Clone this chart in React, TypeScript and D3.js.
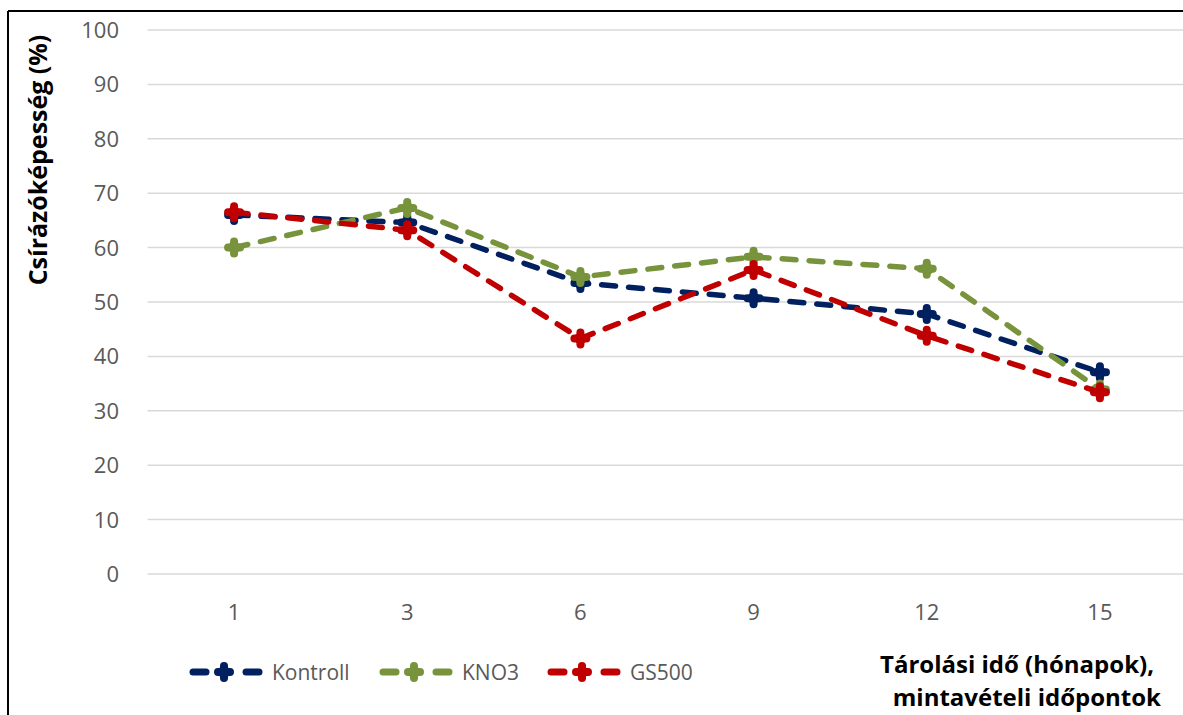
import React from "react";
import * as d3 from "d3";

const categories = ["1", "3", "6", "9", "12", "15"];
const kontroll = [66, 64.6, 53.5, 50.7, 47.8, 37.1];
const kno3 = [60, 67.3, 54.6, 58.3, 56.1, 33.9];
const gs500 = [66.5, 63.2, 43.3, 55.9, 43.8, 33.4];
const yTicks = [0, 10, 20, 30, 40, 50, 60, 70, 80, 90, 100];
const seriesNames = ["Kontroll", "KNO3", "GS500"];
const seriesColors = ["#002060", "#77933C", "#C00000"];

const W = 1183;
const H = 715;
const plotLeft = 147.5;
const plotRight = 1186.5;
const plotTop = 30;
const plotBottom = 574;

const FONT = "'Open Sans', 'Noto Sans', sans-serif";

function Marker({ x, y, color }: { x: number; y: number; color: string }) {
  return (
    <g>
      <line x1={x - 6} x2={x + 6} y1={y} y2={y} stroke={color} strokeWidth={8} strokeLinecap="round" />
      <line x1={x} x2={x} y1={y - 6} y2={y + 6} stroke={color} strokeWidth={8} strokeLinecap="round" />
      <circle cx={x} cy={y} r={6} fill={color} />
    </g>
  );
}

export default function App() {
  const x = d3.scaleBand<string>().domain(categories).range([plotLeft, plotRight]).padding(0);
  const y = d3.scaleLinear().domain([0, 100]).range([plotBottom, plotTop]);
  const cx = (c: string) => (x(c) as number) + x.bandwidth() / 2;
  const data = [kontroll, kno3, gs500];
  const line = d3
    .line<number>()
    .x((_, i) => cx(categories[i]))
    .y((d) => y(d));

  const legendStarts = [190, 380, 548];
  const legendY = 672;

  return (
    <svg
      width={W}
      height={H}
      style={{ position: "absolute", left: 0, top: 0, background: "#fff" }}
      fontFamily={FONT}
    >
      <rect x={0} y={0} width={W} height={H} fill="#fff" />
      {/* frame */}
      <line x1={8} x2={W} y1={11} y2={11} stroke="#000" strokeWidth={2} />
      <line x1={8} x2={8} y1={11} y2={H} stroke="#000" strokeWidth={2} />

      {/* gridlines */}
      {yTicks.map((t) => (
        <g key={t}>
          <line x1={plotLeft} x2={plotRight} y1={y(t)} y2={y(t)} stroke="#D9D9D9" strokeWidth={1.5} />
          <text x={119} y={y(t)} dy="0.36em" textAnchor="end" fontSize={22} fill="#595959">
            {t}
          </text>
        </g>
      ))}

      {/* x tick labels */}
      {categories.map((c) => (
        <text key={c} x={cx(c)} y={612} dy="0.36em" textAnchor="middle" fontSize={22} fill="#595959">
          {c}
        </text>
      ))}

      {/* y axis title */}
      <text
        transform={`translate(38, 160) rotate(-90)`}
        textAnchor="middle"
        dy="0.36em"
        fontSize={25}
        fontWeight="bold"
        fill="#000"
      >
        Csírázóképesség (%)
      </text>

      {/* series */}
      {data.map((vals, si) => (
        <g key={si}>
          <path
            d={line(vals) as string}
            fill="none"
            stroke={seriesColors[si]}
            strokeWidth={5.5}
            strokeDasharray="14 13"
            strokeLinecap="round"
            strokeLinejoin="round"
          />
          {vals.map((v, i) => (
            <Marker key={i} x={cx(categories[i])} y={y(v)} color={seriesColors[si]} />
          ))}
        </g>
      ))}

      {/* legend */}
      {legendStarts.map((a, si) => (
        <g key={si}>
          <line x1={a + 3} x2={a + 16} y1={legendY} y2={legendY} stroke={seriesColors[si]} strokeWidth={7} strokeLinecap="round" />
          <line x1={a + 56} x2={a + 69} y1={legendY} y2={legendY} stroke={seriesColors[si]} strokeWidth={7} strokeLinecap="round" />
          <Marker x={a + 34} y={legendY} color={seriesColors[si]} />
          <text x={a + 82} y={legendY} dy="0.36em" fontSize={21} fill="#595959">
            {seriesNames[si]}
          </text>
        </g>
      ))}

      {/* x axis title */}
      <text x={1154} y={664} dy="0.36em" textAnchor="end" fontSize={24} fontWeight="bold" fill="#000">
        Tárolási idő (hónapok),
      </text>
      <text x={1161} y={697} dy="0.36em" textAnchor="end" fontSize={24} fontWeight="bold" fill="#000">
        mintavételi időpontok
      </text>
    </svg>
  );
}
